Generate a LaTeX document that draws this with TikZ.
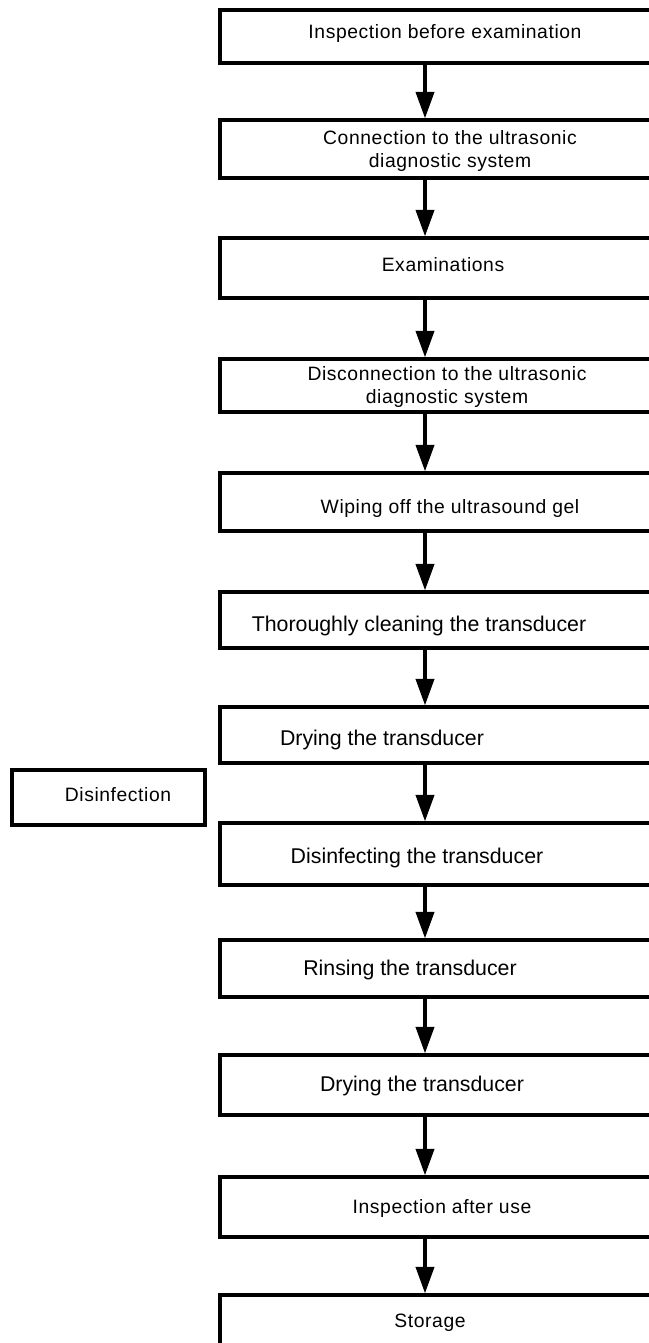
\documentclass[tikz,border=0pt]{standalone}
\usepackage{fontspec}
\setmainfont{Liberation Sans}
\newfontfamily\msfont[LetterSpace=3]{Liberation Sans}
\usetikzlibrary{arrows.meta}
\begin{document}
\begin{tikzpicture}[x=0.75pt,y=-0.75pt,
  box/.style={draw,line width=2.3pt,inner sep=0pt,minimum width=360pt,line join=miter},
  sidebox/.style={draw,line width=2.3pt,inner sep=0pt,minimum width=144.75pt,minimum height=41.25pt},
  arr/.style={line width=3pt,-{Triangle[length=20pt,width=13.5pt]}},
  mstext/.style={font=\msfont\fontsize{14.5}{18}\selectfont,inner sep=0pt},
  tatext/.style={font=\fontsize{16}{18}\selectfont,inner sep=0pt}]
\useasboundingbox (0,0) rectangle (649,1343);
\clip (0,0) rectangle (649,1343);
\coordinate (ax) at (425,0);
% boxes
\node[box,minimum height=39.75pt] (b1) at (460,36.5) {};
\node[box,minimum height=43.5pt] (b2) at (460,149) {};
\node[box,minimum height=45pt] (b3) at (460,268) {};
\node[box,minimum height=39.75pt] (b4) at (460,385.5) {};
\node[box,minimum height=43.5pt] (b5) at (460,502) {};
\node[box,minimum height=42pt] (b6) at (460,620) {};
\node[box,minimum height=42pt] (b7) at (460,735) {};
\node[box,minimum height=46.5pt] (b8) at (460,854) {};
\node[box,minimum height=42.75pt] (b9) at (460,968.5) {};
\node[box,minimum height=45pt] (b10) at (460,1085) {};
\node[box,minimum height=45pt] (b11) at (460,1207) {};
\node[box,minimum height=60pt] (b12) at (460,1335) {};
\node[sidebox] (d) at (108.5,797.5) {};
% texts
\node[mstext] (t1) at (445,33) {Inspection before examination};
\node[mstext] (t2a) at (450,138) {Connection to the ultrasonic};
\node[mstext] (t2b) at (450,162) {diagnostic system};
\node[mstext] (t3) at (443,265) {Examinations};
\node[mstext] (t4a) at (447,374) {Disconnection to the ultrasonic};
\node[mstext] (t4b) at (447,398) {diagnostic system};
\node[mstext] (t5) at (450,508) {Wiping off the ultrasound gel};
\node[tatext] (t6) at (419,626) {Thoroughly cleaning the transducer};
\node[tatext] (t7) at (382,740) {Drying the transducer};
\node[mstext] (td) at (118,795) {Disinfection};
\node[tatext] (t8) at (417,858) {Disinfecting the transducer};
\node[tatext] (t9) at (410,970) {Rinsing the transducer};
\node[tatext] (t10) at (422,1086) {Drying the transducer};
\node[mstext] (t11) at (442,1208) {Inspection after use};
\node[mstext] (t12) at (430,1323) {Storage};
% arrows
\foreach \a/\b in {b1/b2,b2/b3,b3/b4,b4/b5,b5/b6,b6/b7,b7/b8,b8/b9,b9/b10,b10/b11,b11/b12}
  \draw[arr] (\a.south -| ax) -- (\b.north -| ax);
\end{tikzpicture}
\end{document}
